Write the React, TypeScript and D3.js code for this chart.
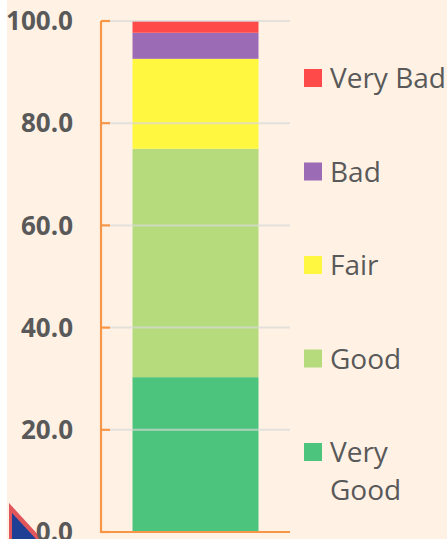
import React, { useEffect } from 'react';
import * as d3 from 'd3';

const categories = ['Very Good', 'Good', 'Fair', 'Bad', 'Very Bad'];
const values = [30.3, 44.7, 17.6, 5.1, 2.3];
const colors = ['#4DC47D', '#B5DB7D', '#FFF740', '#9C6BB5', '#FF4A4A'];
const yTicks = [0, 20, 40, 60, 80, 100];

const W = 447, H = 539;

export default function App() {
  useEffect(() => {
    document.body.style.margin = '0';
  }, []);

  // plot area
  const x0 = 101, x1 = 290;
  const y = d3.scaleLinear().domain([0, 100]).range([532, 21]);
  const xb = d3.scaleBand().domain(['s']).range([x0, x1]).paddingInner(0).paddingOuter(0.25);

  // stack the single column
  const stack = d3.stack<any>().keys(categories)([
    Object.fromEntries(categories.map((c, i) => [c, values[i]]))
  ]);

  const legendY = d3.scalePoint().domain([...categories].reverse()).range([78, 452]);
  const font = "'Open Sans', sans-serif";

  return (
    <svg width={W} height={H} style={{ position: 'absolute', left: 0, top: 0, display: 'block' }}>
      <rect x={0} y={0} width={W} height={H} fill="#ffffff" />
      <rect x={7} y={0} width={W - 7} height={H} fill="#FFF2E5" />

      {/* cut-off shape of a neighbouring chart */}
      <path d="M9,503 L42,539 L9,539 Z" fill="#E0565B" />
      <path d="M12,513 L36,539 L12,539 Z" fill="#1F3F95" />

      {/* bars */}
      {stack.map((s, i) => (
        <rect key={categories[i]}
          x={xb('s')} width={xb.bandwidth()}
          y={y(s[0][1])} height={y(s[0][0]) - y(s[0][1])}
          fill={colors[i]} />
      ))}

      {/* gridlines */}
      {yTicks.slice(1).map(t => (
        <line key={t} x1={x0 + 9} x2={x1} y1={y(t)} y2={y(t)} stroke="#d9d9d9" strokeOpacity={0.7} strokeWidth={2} />
      ))}

      {/* axis */}
      <g stroke="#F79646" strokeWidth={2.2}>
        <line x1={x0} x2={x0} y1={y(100)} y2={y(0) + 1} />
        <line x1={x0} x2={x1} y1={y(0)} y2={y(0)} />
        {yTicks.map(t => (
          <line key={t} x1={x0} x2={x0 + 9} y1={y(t)} y2={y(t)} />
        ))}
      </g>
      {yTicks.map(t => (
        <text key={t} x={73} y={y(t)} dy="0.35em" textAnchor="end"
          fontFamily={font} fontWeight="bold" fontSize={26} fill="#595959">
          {d3.format('.1f')(t)}
        </text>
      ))}

      {/* legend */}
      {categories.map((c, i) => {
        const cy = legendY(c) as number;
        const words = c === 'Very Good' ? ['Very', 'Good'] : [c];
        return (
          <g key={c}>
            <rect x={304} y={cy - 9} width={18} height={18} fill={colors[i]} />
            {words.map((w, j) => (
              <text key={w} x={330} y={cy + 10 + j * 38} fontFamily={font} fontSize={28} fill="#595959">{w}</text>
            ))}
          </g>
        );
      })}
    </svg>
  );
}
